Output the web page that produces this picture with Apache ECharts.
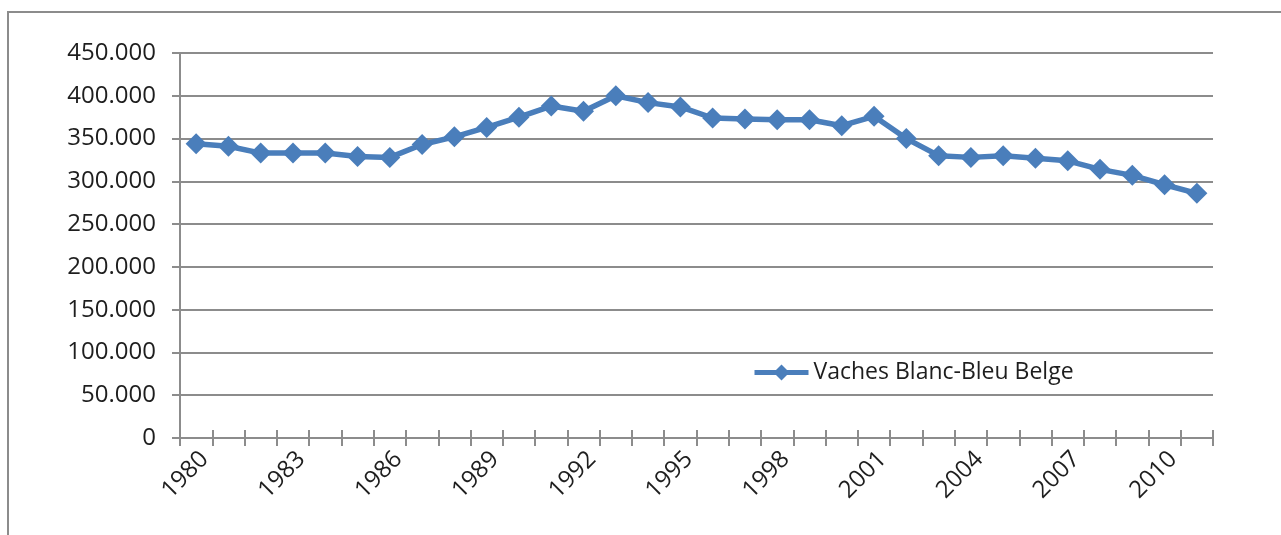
<!DOCTYPE html>
<html>
<head>
<meta charset="utf-8">
<script src="https://cdn.jsdelivr.net/npm/echarts@6/dist/echarts.min.js"></script>
<style>
    html, body { margin: 0; padding: 0; background: #fff; }
    #chart { width: 1281px; height: 535px; }
</style>
</head>
<body>
<div id="chart"></div>
<script>
//年份
var years = ['1980', '1981', '1982', '1983', '1984', '1985', '1986', '1987', '1988', '1989',
    '1990', '1991', '1992', '1993', '1994', '1995', '1996', '1997', '1998', '1999',
    '2000', '2001', '2002', '2003', '2004', '2005', '2006', '2007', '2008', '2009',
    '2010', '2011'];

//Vaches Blanc-Bleu Belge
var vaches = [344000, 341000, 333000, 333000, 333000, 329000, 328000, 343000, 352000, 363000,
    375000, 388000, 382000, 400000, 392000, 387000, 374000, 373000, 372000, 372000,
    365000, 376000, 350000, 330000, 328000, 330000, 327000, 324000, 314000, 307000,
    296000, 286000];

var seriesName = 'Vaches Blanc-Bleu Belge';
var yMax = 450000;
var yStep = 50000;

var grey = '#8c8c8c';
var blue = '#4a7ebb';
var textColor = '#1e1e1e';
var font = '"Open Sans", "Noto Sans", sans-serif';

//千位分隔符用点
function fmt(v) {
    return String(v).replace(/\B(?=(\d{3})+(?!\d))/g, '.');
}

var option = {
    animation: false,
    backgroundColor: '#fff',
    graphic: [
        {
            type: 'polyline',
            shape: { points: [[8, 600], [8, 12], [1300, 12]] },
            style: { stroke: grey, lineWidth: 2, fill: null }
        }
    ],
    grid: {
        left: 180,
        right: 68,
        top: 53,
        bottom: 97
    },
    legend: {
        data: [seriesName],
        left: 752,
        top: 361,
        padding: 0,
        itemWidth: 54,
        itemHeight: 20,
        lineStyle: { width: 5 },
        textStyle: {
            fontFamily: font,
            fontSize: 23,
            color: textColor
        }
    },
    xAxis: [
        {
            type: 'category',
            data: years,
            boundaryGap: true,
            axisLine: { lineStyle: { color: grey, width: 2 } },
            axisTick: {
                show: true,
                interval: 0,
                length: 8,
                lineStyle: { color: grey, width: 2 }
            },
            axisLabel: {
                interval: 2,
                rotate: 45,
                margin: 9,
                verticalAlign: 'top',
                fontFamily: font,
                fontSize: 24,
                color: textColor
            },
            splitLine: { show: false }
        },
        {
            //刻度线穿过轴线
            type: 'category',
            data: years,
            position: 'bottom',
            boundaryGap: true,
            axisLine: { show: false },
            axisTick: {
                show: true,
                inside: true,
                interval: 0,
                length: 8,
                lineStyle: { color: grey, width: 2 }
            },
            axisLabel: { show: false },
            splitLine: { show: false }
        }
    ],
    yAxis: {
        type: 'value',
        min: 0,
        max: yMax,
        interval: yStep,
        axisLine: { show: true, lineStyle: { color: grey, width: 2 } },
        axisTick: { show: true, length: 8, lineStyle: { color: grey, width: 2 } },
        axisLabel: {
            formatter: fmt,
            margin: 24,
            fontFamily: font,
            fontSize: 24,
            color: textColor
        },
        splitLine: { lineStyle: { color: grey, width: 2 } }
    },
    series: [
        {
            name: seriesName,
            type: 'line',
            data: vaches,
            symbol: 'diamond',
            symbolSize: 21,
            lineStyle: { color: blue, width: 5.5 },
            itemStyle: { color: blue }
        }
    ]
};

var myChart = echarts.init(document.getElementById('chart'));
myChart.setOption(option);
</script>
</body>
</html>
